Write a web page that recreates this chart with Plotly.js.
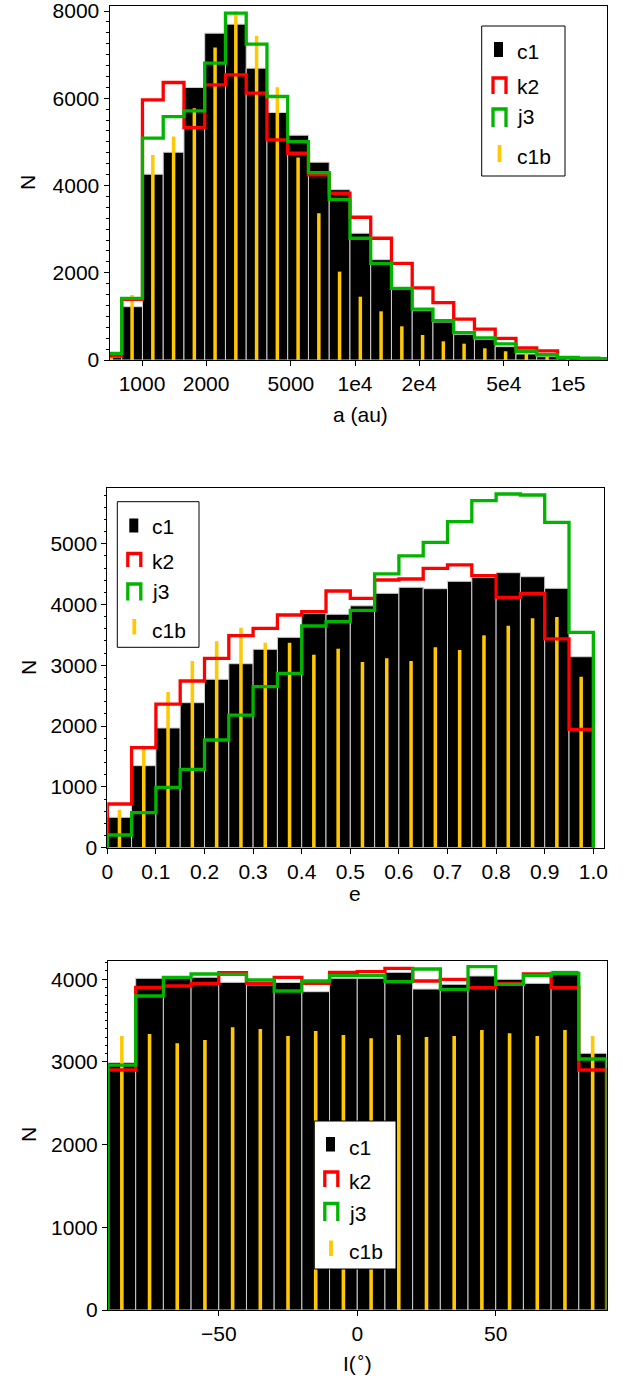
<!DOCTYPE html>
<html><head><meta charset="utf-8">
<script src="https://cdn.plot.ly/plotly-3.0.1.min.js"></script>
<style>html,body{margin:0;padding:0;background:#fff}#chart{width:627px;height:1381px}</style>
</head><body><div id="chart"></div>
<script>
// ---------------- DATA ----------------
// Panel 1: semi-major axis, log-spaced bins (log10 of first bin edge and bin width)
const aBinStartLog10 = 2.8073;
const aBinWidthLog10 = 0.09742;
const a_c1  = [60, 1222, 4259, 4763, 6246, 7492, 7699, 6690, 5673, 5153, 4534, 3905, 2906, 2300, 1615, 1131, 870, 589, 474, 306, 138, 76, 60, 45, 30];
const a_k2  = [92, 1390, 5963, 6361, 5329, 6307, 6536, 6116, 5046, 4740, 4243, 3823, 3272, 2791, 2217, 1655, 1315, 937, 708, 497, 275, 210, 50, 25, 15];
const a_j3  = [153, 1414, 5084, 5581, 5711, 6804, 7951, 7240, 6040, 5008, 4297, 3680, 2791, 2217, 1644, 1166, 902, 627, 505, 370, 195, 120, 60, 40, 30];
const a_c1b = [170, 1491, 4702, 5122, 5772, 7164, 7989, 7431, 6253, 4641, 3364, 2026, 1452, 1116, 772, 573, 428, 375, 268, 200, 153, 115, 76, 61, 30];
const aTickValues = [1000, 2000, 5000, 10000, 20000, 50000, 100000];
const aTickLabels = ["1000", "2000", "5000", "1e4", "2e4", "5e4", "1e5"];

// Panel 2: eccentricity, bins of 0.05 from 0 to 1
const eBinEdges = [0, 0.05, 0.1, 0.15, 0.2, 0.25, 0.3, 0.35, 0.4, 0.45, 0.5, 0.55, 0.6, 0.65, 0.7, 0.75, 0.8, 0.85, 0.9, 0.95, 1.0];
const e_c1  = [500, 1349, 1969, 2385, 2770, 3026, 3263, 3460, 3855, 3839, 3978, 4184, 4283, 4260, 4381, 4447, 4523, 4457, 4266, 3141];
const e_k2  = [719, 1645, 2363, 2742, 3115, 3487, 3608, 3827, 3882, 4222, 4102, 4403, 4419, 4595, 4650, 4474, 4118, 4184, 3433, 1947];
const e_j3  = [209, 576, 993, 1289, 1771, 2182, 2648, 2868, 3646, 3717, 3903, 4502, 4798, 5023, 5362, 5707, 5817, 5801, 5352, 3543];
const e_c1b = [620, 1678, 2561, 3071, 3395, 3618, 3372, 3372, 3174, 3273, 3054, 3115, 3071, 3296, 3252, 3493, 3652, 3773, 3794, 2813];
const eTickValues = [0, 0.1, 0.2, 0.3, 0.4, 0.5, 0.6, 0.7, 0.8, 0.9, 1.0];
const eTickLabels = ["0", "0.1", "0.2", "0.3", "0.4", "0.5", "0.6", "0.7", "0.8", "0.9", "1.0"];

// Panel 3: inclination (deg), bins of 10 deg from -90 to 90
const iBinEdges = [-90, -80, -70, -60, -50, -40, -30, -20, -10, 0, 10, 20, 30, 40, 50, 60, 70, 80, 90];
const i_c1  = [2991, 4010, 4015, 4023, 3962, 3930, 3960, 3849, 4011, 4011, 4083, 3881, 3938, 4039, 3998, 3950, 4099, 3104];
const i_k2  = [2902, 3902, 3918, 3950, 4079, 3950, 4023, 3950, 4083, 4091, 4131, 3978, 3998, 3898, 3950, 4063, 3898, 2902];
const i_j3  = [2962, 3797, 4023, 4063, 4059, 3990, 3857, 3978, 4043, 4043, 3970, 4123, 3877, 4152, 3938, 4043, 4071, 3035];
const i_c1b = [3313, 3337, 3224, 3265, 3418, 3398, 3313, 3374, 3325, 3285, 3325, 3301, 3313, 3386, 3345, 3313, 3386, 3313];

const seriesNames = ["c1", "k2", "j3", "c1b"];

// ---------------- STYLE ----------------
const W = 627, H = 1381;
const FONT = "Liberation Sans, Arial, sans-serif";
const COL = {c1: "#000000", k2: "#ff0000", j3: "#00b400", c1b: "#ffc800"};
const px = x => x / W;
const py = y => 1 - y / H;

const aEdges = [];
for (let i = 0; i <= a_c1.length; i++) aEdges.push(aBinStartLog10 + i * aBinWidthLog10);

function centers(edges) { const c = []; for (let i = 0; i < edges.length - 1; i++) c.push((edges[i] + edges[i + 1]) / 2); return c; }
function widths(edges) { const w = []; for (let i = 0; i < edges.length - 1; i++) w.push(edges[i + 1] - edges[i]); return w; }

function panelTraces(edges, c1, k2, j3, c1b, xa, ya, thinW) {
  const cx = centers(edges), wd = widths(edges);
  const stepX = [edges[0]].concat(edges);
  const stepY = v => [0].concat(v).concat([0]);
  return [
    {type: "bar", x: cx, y: c1, width: wd, xaxis: xa, yaxis: ya, name: "c1",
     marker: {color: COL.c1, line: {color: "#cfcfcf", width: 1}}, showlegend: false},
    {type: "scatter", mode: "lines", x: stepX, y: stepY(k2), xaxis: xa, yaxis: ya, name: "k2",
     line: {shape: "hv", color: COL.k2, width: 3.3}, showlegend: false},
    {type: "scatter", mode: "lines", x: stepX, y: stepY(j3), xaxis: xa, yaxis: ya, name: "j3",
     line: {shape: "hv", color: COL.j3, width: 3.3}, showlegend: false},
    {type: "bar", x: cx, y: c1b, width: cx.map(() => thinW), xaxis: xa, yaxis: ya, name: "c1b",
     marker: {color: COL.c1b, line: {width: 0}}, showlegend: false}
  ];
}

const traces = []
  .concat(panelTraces(aEdges, a_c1, a_k2, a_j3, a_c1b, "x", "y", 0.0165))
  .concat(panelTraces(eBinEdges, e_c1, e_k2, e_j3, e_c1b, "x2", "y2", 0.0073))
  .concat(panelTraces(iBinEdges, i_c1, i_k2, i_j3, i_c1b, "x3", "y3", 1.3));

const baseAxis = {
  showline: true, mirror: true, linecolor: "black", linewidth: 1,
  ticks: "outside", ticklen: 5, tickwidth: 1, tickcolor: "black",
  showgrid: false, zeroline: false, fixedrange: true, ticklabeloverflow: "allow",
  tickfont: {family: FONT, size: 21, color: "black"}
};
const ax = o => Object.assign({}, baseAxis, o);

const layout = {
  width: W, height: H, margin: {l: 0, r: 0, t: 0, b: 0},
  paper_bgcolor: "white", plot_bgcolor: "white",
  barmode: "overlay", showlegend: false, hovermode: false,
  font: {family: FONT, size: 21, color: "black"},
  xaxis: ax({domain: [px(109.5), px(607)], anchor: "y", range: [2.8474, 5.1831],
    tickmode: "array", tickvals: aTickValues.map(Math.log10), ticktext: aTickLabels}),
  yaxis: ax({domain: [py(360), py(6)], anchor: "x", range: [0, 8115], tickmode: "array",
    tickvals: [0, 2000, 4000, 6000, 8000], ticktext: ["0", "2000", "4000", "6000", "8000"],
    minor: {ticks: "outside", dtick: 250, tick0: 0, ticklen: 2.5, tickcolor: "black"}}),
  xaxis2: ax({domain: [px(107.3), px(604.3)], anchor: "y2", range: [0, 1.0226],
    tickmode: "array", tickvals: eTickValues, ticktext: eTickLabels}),
  yaxis2: ax({domain: [py(847.7), py(488.3)], anchor: "x2", range: [0, 5911], tickmode: "linear", tick0: 0, dtick: 1000,
    minor: {ticks: "outside", dtick: 200, tick0: 0, ticklen: 2.5, tickcolor: "black"}}),
  xaxis3: ax({domain: [px(108), px(606.5)], anchor: "y3", range: [-90, 90], tickmode: "linear", tick0: 0, dtick: 50}),
  yaxis3: ax({domain: [py(1310), py(961)], anchor: "x3", range: [0, 4220], tickmode: "linear", tick0: 0, dtick: 1000,
    minor: {ticks: "outside", tickmode: "array", tickvals: [3100,3200,3300,3400,3500,3600,3700,3800,3900,4100,4200], ticklen: 2.5, tickcolor: "black"}}),
  shapes: [], annotations: []
};

// axis titles
function addText(text, x, y, opts) {
  layout.annotations.push(Object.assign({text: text, x: px(x), y: py(y), xref: "paper", yref: "paper",
    showarrow: false, font: {family: FONT, size: 21, color: "black"}, xanchor: "center", yanchor: "middle"}, opts || {}));
}
addText("a (au)", 360, 415);
addText("e", 355, 893);
addText("I(<sup>∘</sup>)", 357, 1362);
addText("N", 28, 183, {textangle: -90});
addText("N", 28, 668, {textangle: -90});
addText("N", 28, 1135, {textangle: -90});

// custom legends (matplotlib-like handles)
function legend(box, items) {
  layout.shapes.push({type: "rect", xref: "paper", yref: "paper", x0: px(box[0]), x1: px(box[1]), y0: py(box[3]), y1: py(box[2]),
    line: {color: "black", width: 1}, fillcolor: "white", layer: "above"});
  items.forEach((it, k) => {
    const name = seriesNames[k];
    if (name === "c1") {
      layout.shapes.push({type: "rect", xref: "paper", yref: "paper", x0: px(it.sx - 4.5), x1: px(it.sx + 4.5),
        y0: py(it.sy1), y1: py(it.sy0), line: {width: 0}, fillcolor: COL.c1, layer: "above"});
    } else if (name === "c1b") {
      layout.shapes.push({type: "line", xref: "paper", yref: "paper", x0: px(it.sx), x1: px(it.sx),
        y0: py(it.sy1), y1: py(it.sy0), line: {color: COL.c1b, width: 3.8}, layer: "above"});
    } else {
      const l = px(it.sx - 6.5), r = px(it.sx + 6.5), t = py(it.sy0), b = py(it.sy1);
      layout.shapes.push({type: "path", xref: "paper", yref: "paper",
        path: `M ${l} ${b} L ${l} ${t} L ${r} ${t} L ${r} ${b}`, line: {color: COL[name], width: 3.3}, layer: "above"});
    }
    addText(name, it.tx, it.ty, {xanchor: "left"});
  });
}
legend([481.7, 565, 26, 176], [
  {sx: 498.5, sy0: 42, sy1: 57, tx: 515, ty: 51.5},
  {sx: 499.5, sy0: 78, sy1: 94, tx: 515, ty: 86},
  {sx: 499.5, sy0: 109, sy1: 127, tx: 515, ty: 116.5},
  {sx: 499.5, sy0: 145, sy1: 162, tx: 515, ty: 156.5}
]);
legend([117.3, 199, 501.7, 647.3], [
  {sx: 133.8, sy0: 518.5, sy1: 532.5, tx: 150, ty: 526.5},
  {sx: 134.3, sy0: 553.5, sy1: 567, tx: 150, ty: 561.5},
  {sx: 134.3, sy0: 584, sy1: 600.5, tx: 150, ty: 591.5},
  {sx: 134.3, sy0: 619, sy1: 634.5, tx: 150, ty: 630}
]);
legend([314.3, 396, 1121, 1269], [
  {sx: 330.5, sy0: 1137, sy1: 1151.5, tx: 346.5, ty: 1147.5},
  {sx: 331.3, sy0: 1172, sy1: 1187, tx: 346.5, ty: 1181.5},
  {sx: 331.3, sy0: 1203.5, sy1: 1221, tx: 346.5, ty: 1213},
  {sx: 331, sy0: 1240.5, sy1: 1256, tx: 346.5, ty: 1251.5}
]);

Plotly.newPlot("chart", traces, layout, {staticPlot: true, displayModeBar: false});
</script>
</body></html>
